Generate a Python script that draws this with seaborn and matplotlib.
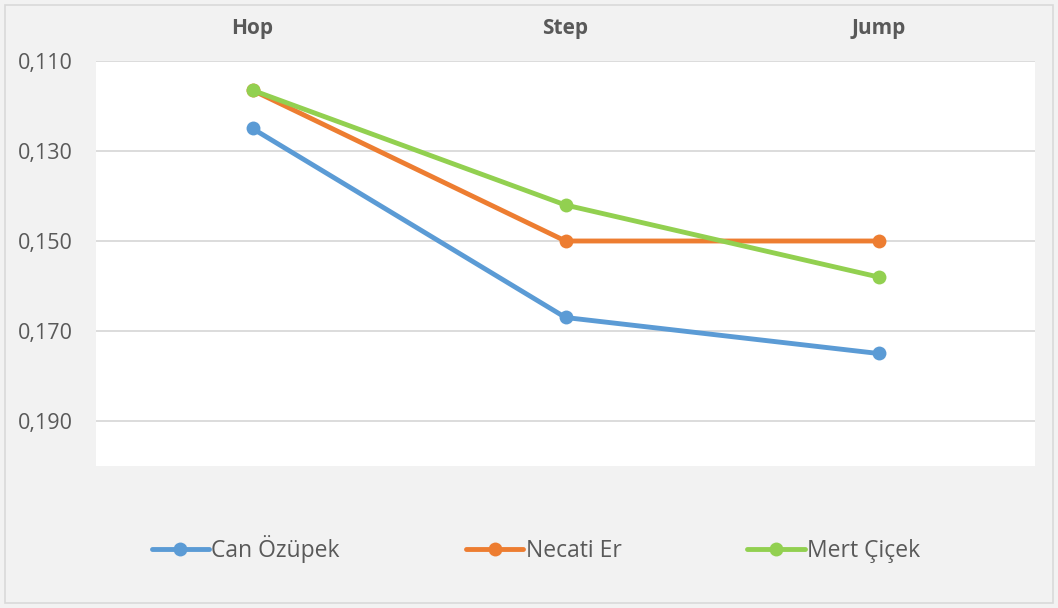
import pandas as pd
import seaborn as sns
import matplotlib.pyplot as plt
from matplotlib.patches import Rectangle
from matplotlib.ticker import FuncFormatter

# Data
phases = ['Hop', 'Step', 'Jump']
can_ozupek = [0.125, 0.167, 0.175]
necati_er = [0.1165, 0.150, 0.150]
mert_cicek = [0.1165, 0.142, 0.158]
athletes = ['Can Özüpek', 'Necati Er', 'Mert Çiçek']
y_ticks = [0.110, 0.130, 0.150, 0.170, 0.190]

df = pd.DataFrame({
    'phase': phases * 3,
    'time': can_ozupek + necati_er + mert_cicek,
    'athlete': [a for a in athletes for _ in phases],
})

sns.set_style('white')
plt.rcParams['font.family'] = ['Open Sans', 'DejaVu Sans']

colors = ['#5b9bd5', '#ed7d31', '#92d050']
text_color = '#595959'

fig = plt.figure(figsize=(10.58, 6.08), dpi=100)
fig.patch.set_facecolor('#f2f2f2')
ax = fig.add_axes([96 / 1058, 1 - 466 / 608, (1035 - 96) / 1058, (466 - 61) / 608])
ax.set_facecolor('white')

sns.lineplot(data=df, x='phase', y='time', hue='athlete', palette=colors,
             marker='o', markersize=10, markeredgewidth=0, linewidth=3.5,
             ax=ax, legend=True, sort=False)

ax.set_xlim(-0.5, 2.5)
ax.set_ylim(0.200, 0.110)
ax.set_yticks(y_ticks)
ax.yaxis.set_major_formatter(FuncFormatter(lambda v, p: f'{v:.3f}'.replace('.', ',')))
ax.grid(axis='y', color='#d9d9d9', linewidth=1.3)
ax.grid(axis='x', visible=False)
ax.set_axisbelow(True)
for s in ax.spines.values():
    s.set_visible(False)

ax.xaxis.tick_top()
ax.tick_params(axis='x', length=0, pad=16, labelsize=15, labelcolor=text_color)
for lbl in ax.get_xticklabels():
    lbl.set_fontweight('bold')
ax.tick_params(axis='y', length=0, pad=17, labelsize=15.5, labelcolor=text_color)
ax.set_xlabel('')
ax.set_ylabel('')

handles, labels = ax.get_legend_handles_labels()
ax.get_legend().remove()
fig.legend(handles, labels, loc='center', bbox_to_anchor=(0.5 + 7 / 1058, 1 - 549 / 608),
           ncol=3, frameon=False, fontsize=16.5, labelcolor=text_color,
           handlelength=2.5, handletextpad=0.1, columnspacing=5.5)

fig.patches.append(Rectangle((5 / 1058, 5 / 608), 1048 / 1058, 598 / 608,
                             transform=fig.transFigure, fill=False,
                             edgecolor='#d9d9d9', linewidth=1.2))

fig.savefig('out.png', dpi=100, facecolor=fig.get_facecolor())
